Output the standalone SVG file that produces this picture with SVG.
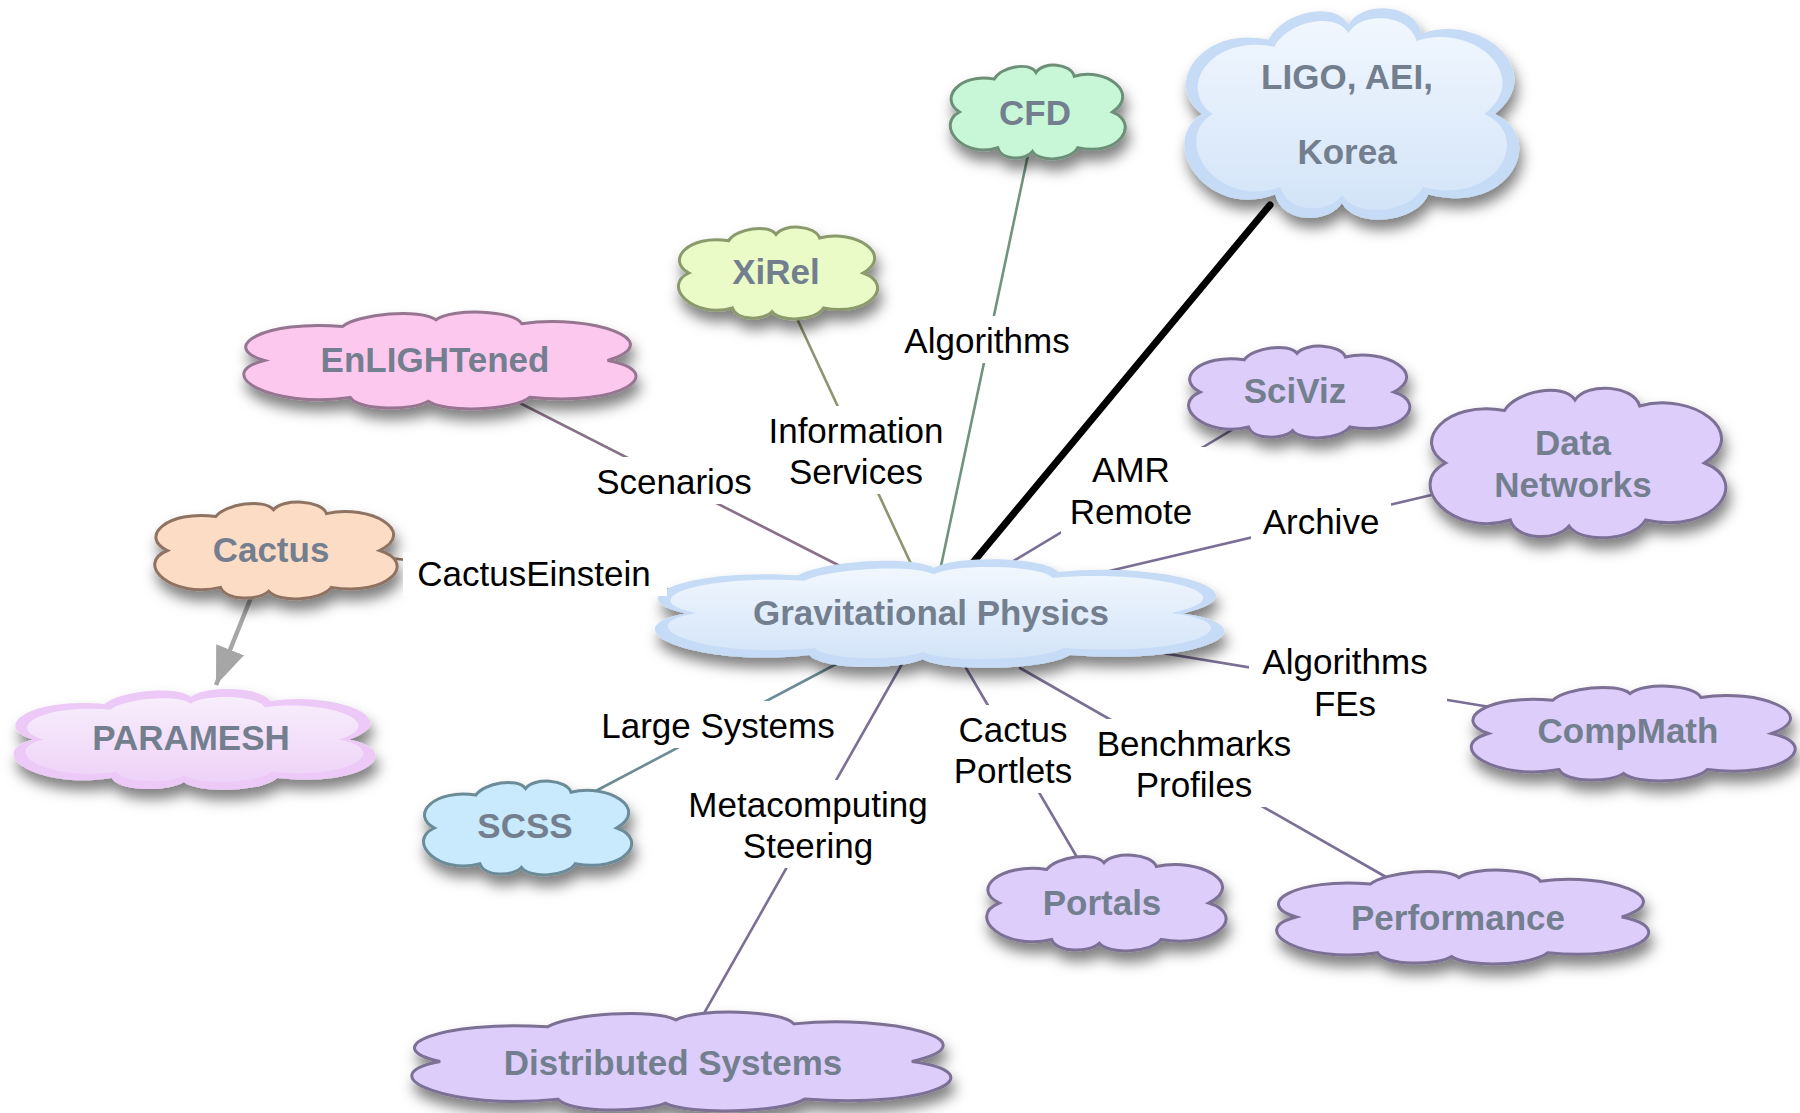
<svg xmlns="http://www.w3.org/2000/svg" xmlns:xlink="http://www.w3.org/1999/xlink" width="1800" height="1113" viewBox="0 0 1800 1113">
<defs>
<style>
.lbl{font-family:"Liberation Sans",Arial,Helvetica,sans-serif;font-size:35px;fill:#000;text-anchor:middle}
.nt{font-family:"Liberation Sans",Arial,Helvetica,sans-serif;font-size:35px;font-weight:bold;fill:#737f8e;text-anchor:middle}
.bg{fill:#fff}
.ln{fill:none;stroke-width:2.6;stroke-linecap:round}
.pu{stroke:#7b6f95}
.cl{stroke-width:3}
.purple{fill:#dccdfb;stroke:#7b6f95}
</style>
<path id="cloud" vector-effect="non-scaling-stroke" d="M 6,50 C -6,36 6,8 26,15 C 30,2 46,-4 50,8 C 54,-4 70,-2 72,12 C 90,2 110,30 94,50 C 110,62 98,98 74,88 C 70,102 52,104 48,92 C 44,102 30,102 28,88 C 8,100 -8,64 6,50 Z"/>
<filter id="sh" x="-10%" y="-20%" width="125%" height="170%">
<feDropShadow dx="3" dy="10" stdDeviation="7" flood-color="#000" flood-opacity="0.5"/>
</filter>
<linearGradient id="gBlue" x1="0" y1="0" x2="0" y2="1">
<stop offset="0" stop-color="#f1f7fe"/>
<stop offset="1" stop-color="#d3e4f8"/>
</linearGradient>
<linearGradient id="gPink" x1="0" y1="0" x2="0" y2="1">
<stop offset="0" stop-color="#f8eefc"/>
<stop offset="1" stop-color="#eed2f8"/>
</linearGradient>
<marker id="arr" markerUnits="userSpaceOnUse" markerWidth="40" markerHeight="32" refX="38" refY="15" orient="auto">
<path d="M0,0 L38,15 L0,30 Z" fill="#a6a6a6"/>
</marker>
</defs>
<rect width="1800" height="1113" fill="#fff"/>

<g id="connectors">
<line class="ln" stroke="#6f947f" x1="941" y1="566" x2="1029" y2="150"/>
<line class="ln" stroke="#8b9670" x1="912" y1="566" x2="793" y2="310"/>
<line class="ln" stroke="#8a6f88" x1="840" y1="566" x2="504" y2="395"/>
<line class="ln" stroke="#8d735f" x1="380" y1="557" x2="690" y2="592"/>
<line class="ln" stroke="#6b8b95" x1="842" y1="661" x2="590" y2="794"/>
<line class="ln pu" x1="902" y1="664" x2="698" y2="1024"/>
<line class="ln pu" x1="966" y1="668" x2="1081" y2="864"/>
<line class="ln pu" x1="1020" y1="668" x2="1393" y2="881"/>
<line class="ln pu" x1="1150" y1="651" x2="1490" y2="707"/>
<line class="ln pu" x1="1105" y1="572" x2="1440" y2="493"/>
<line class="ln pu" x1="995" y1="572" x2="1235" y2="428"/>
<line x1="970" y1="566" x2="1270" y2="205" stroke="#000" stroke-width="7" stroke-linecap="round"/>
<line x1="256" y1="585" x2="216" y2="685" stroke="#a6a6a6" stroke-width="4.5" marker-end="url(#arr)"/>
</g>

<g id="node-ligo">
<g filter="url(#sh)">
<use xlink:href="#cloud" transform="translate(1182,8) scale(3.33,2.12)" fill="#c6dcf6"/>
<use xlink:href="#cloud" transform="translate(1194,18) scale(3.09,1.92)" fill="url(#gBlue)"/>
</g>
<text class="nt" x="1347" y="89">LIGO, AEI,</text>
<text class="nt" x="1347" y="164">Korea</text>
</g>

<g id="node-cfd">
<g filter="url(#sh)"><use xlink:href="#cloud" class="cl" transform="translate(949,65) scale(1.74,0.94)" fill="#c8f7d8" stroke="#6d8f78"/></g>
<text class="nt" x="1035" y="125">CFD</text>
</g>

<g id="node-xirel">
<g filter="url(#sh)"><use xlink:href="#cloud" class="cl" transform="translate(677,227) scale(1.98,0.92)" fill="#eafbc8" stroke="#8a9a6c"/></g>
<text class="nt" x="776" y="284">XiRel</text>
</g>

<g id="node-enlightened">
<g filter="url(#sh)"><use xlink:href="#cloud" class="cl" transform="translate(241,312) scale(3.9,0.97)" fill="#fdc8ee" stroke="#957490"/></g>
<text class="nt" x="435" y="372">EnLIGHTened</text>
</g>

<g id="node-sciviz">
<g filter="url(#sh)"><use xlink:href="#cloud" class="cl purple" transform="translate(1187,346) scale(2.2,0.92)"/></g>
<text class="nt" x="1295" y="403">SciViz</text>
</g>

<g id="node-datanetworks">
<g filter="url(#sh)"><use xlink:href="#cloud" class="cl purple" transform="translate(1428,388) scale(2.94,1.5)"/></g>
<text class="nt" x="1573" y="455">Data</text>
<text class="nt" x="1573" y="497">Networks</text>
</g>

<g id="node-cactus">
<g filter="url(#sh)"><use xlink:href="#cloud" class="cl" transform="translate(153,502) scale(2.41,0.97)" fill="#fddcc6" stroke="#8e7362"/></g>
<text class="nt" x="271" y="562">Cactus</text>
</g>

<g id="node-gp">
<g filter="url(#sh)">
<use xlink:href="#cloud" transform="translate(651,559) scale(5.66,1.09)" fill="#c6dcf6"/>
<use xlink:href="#cloud" transform="translate(664,567) scale(5.40,0.92)" fill="url(#gBlue)"/>
</g>
<text class="nt" x="931" y="625">Gravitational Physics</text>
</g>

<g id="node-paramesh">
<g filter="url(#sh)">
<use xlink:href="#cloud" transform="translate(11,689) scale(3.6,1.01)" fill="#ecc9f6"/>
<use xlink:href="#cloud" transform="translate(23,697) scale(3.36,0.85)" fill="url(#gPink)"/>
</g>
<text class="nt" x="191" y="750">PARAMESH</text>
</g>

<g id="node-compmath">
<g filter="url(#sh)"><use xlink:href="#cloud" class="cl purple" transform="translate(1469,686) scale(3.22,0.95)"/></g>
<text class="nt" x="1628" y="743">CompMath</text>
</g>

<g id="node-scss">
<g filter="url(#sh)"><use xlink:href="#cloud" class="cl" transform="translate(422,781) scale(2.07,0.94)" fill="#c8eafc" stroke="#6a8b97"/></g>
<text class="nt" x="525" y="838">SCSS</text>
</g>

<g id="node-portals">
<g filter="url(#sh)"><use xlink:href="#cloud" class="cl purple" transform="translate(985,855) scale(2.38,0.96)"/></g>
<text class="nt" x="1102" y="915">Portals</text>
</g>

<g id="node-performance">
<g filter="url(#sh)"><use xlink:href="#cloud" class="cl purple" transform="translate(1274,870) scale(3.7,0.94)"/></g>
<text class="nt" x="1458" y="930">Performance</text>
</g>

<g id="node-distributed">
<g filter="url(#sh)"><use xlink:href="#cloud" class="cl purple" transform="translate(408,1012) scale(5.36,0.99)"/></g>
<text class="nt" x="673" y="1075">Distributed Systems</text>
</g>

<g id="edge-labels">
<rect class="bg" x="893" y="316" width="188" height="47"/>
<text class="lbl" x="987" y="353">Algorithms</text>
<rect class="bg" x="757" y="406" width="198" height="88"/>
<text class="lbl" x="856" y="443">Information</text>
<text class="lbl" x="856" y="484">Services</text>
<rect class="bg" x="585" y="457" width="178" height="47"/>
<text class="lbl" x="674" y="494">Scenarios</text>
<rect class="bg" x="403" y="552" width="264" height="44"/>
<text class="lbl" x="534" y="586">CactusEinstein</text>
<rect class="bg" x="1082" y="447" width="124" height="43"/>
<rect class="bg" x="1061" y="488" width="145" height="46"/>
<text class="lbl" x="1131" y="482">AMR</text>
<text class="lbl" x="1131" y="524">Remote</text>
<rect class="bg" x="1251" y="497" width="140" height="47"/>
<text class="lbl" x="1321" y="534">Archive</text>
<rect class="bg" x="1249" y="637" width="198" height="89"/>
<text class="lbl" x="1345" y="674">Algorithms</text>
<text class="lbl" x="1345" y="716">FEs</text>
<rect class="bg" x="592" y="701" width="252" height="47"/>
<text class="lbl" x="718" y="738">Large Systems</text>
<rect class="bg" x="945" y="705" width="136" height="88"/>
<text class="lbl" x="1013" y="742">Cactus</text>
<text class="lbl" x="1013" y="783">Portlets</text>
<rect class="bg" x="1087" y="719" width="214" height="88"/>
<text class="lbl" x="1194" y="756">Benchmarks</text>
<text class="lbl" x="1194" y="797">Profiles</text>
<rect class="bg" x="678" y="780" width="260" height="88"/>
<text class="lbl" x="808" y="817">Metacomputing</text>
<text class="lbl" x="808" y="858">Steering</text>
</g>
</svg>
